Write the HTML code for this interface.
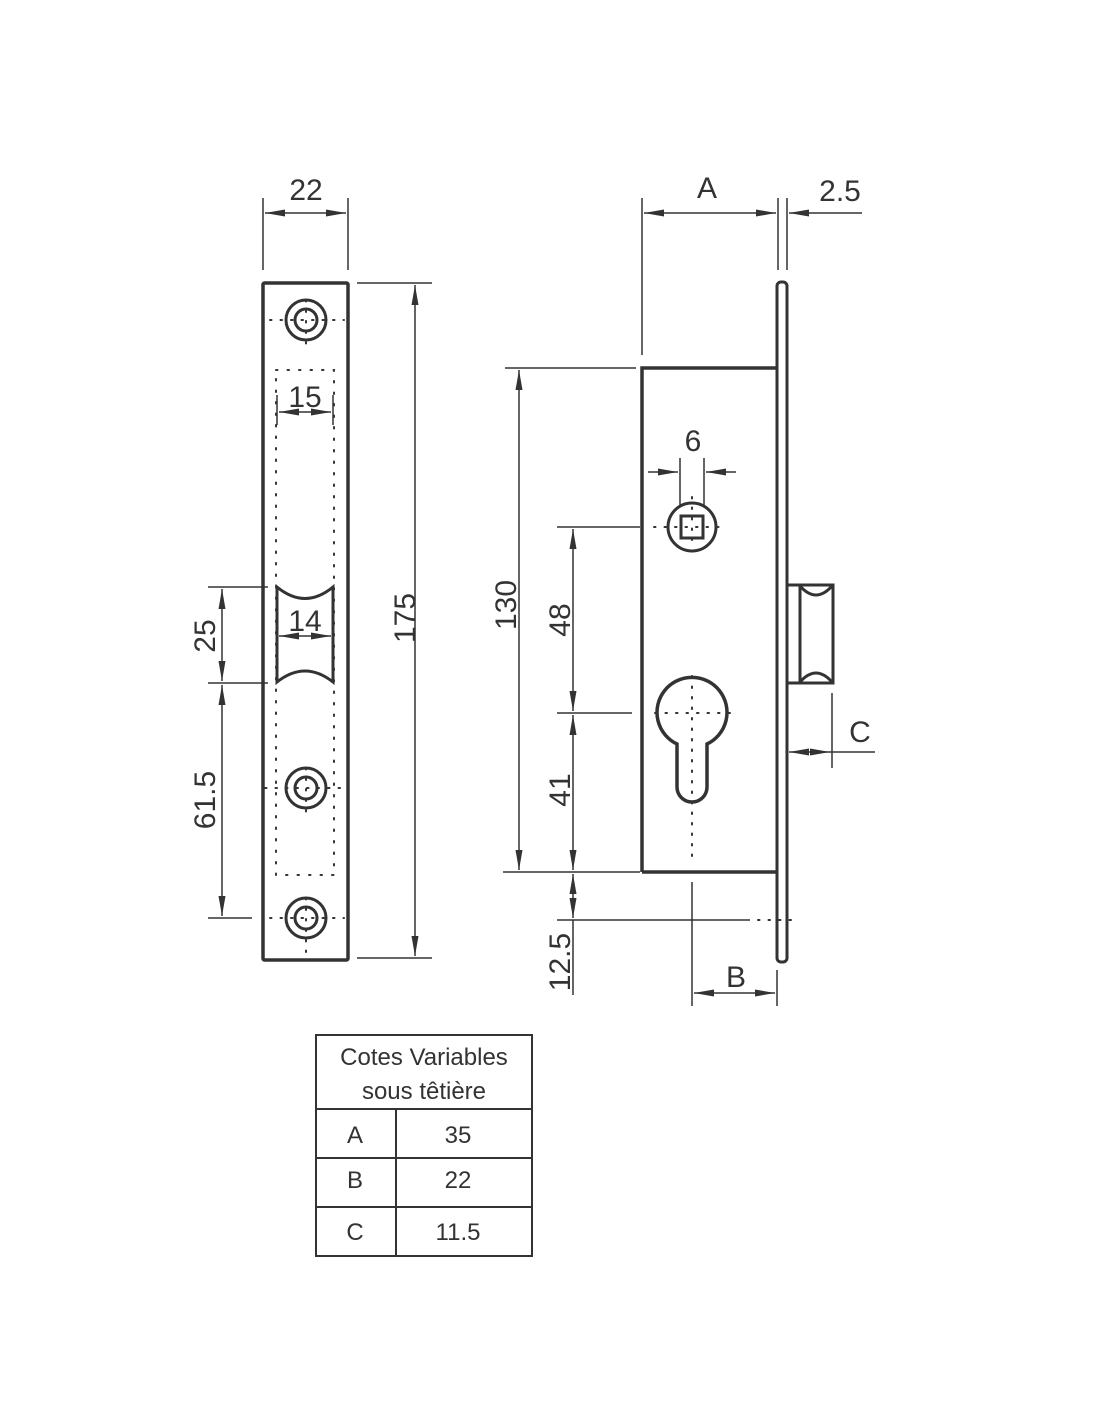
<!DOCTYPE html>
<html><head><meta charset="utf-8"><style>
html,body{margin:0;padding:0;background:#fff;}
svg{display:block;}
text{font-family:"Liberation Sans",sans-serif;fill:#333;}
</style></head><body>
<svg width="1100" height="1422" viewBox="0 0 1100 1422" xmlns="http://www.w3.org/2000/svg">
<defs>
<marker id="a" viewBox="0 0 20 8" refX="20" refY="4" markerWidth="20" markerHeight="8" markerUnits="userSpaceOnUse" orient="auto-start-reverse">
<path d="M0,0.5 L20,4 L0,7.5 Z" fill="#333"/>
</marker>
</defs>
<g stroke="#333" fill="none">
<rect x="263" y="283" width="85" height="677" stroke-width="3.5" rx="1.5"/>
<g stroke-width="1.5">
<line x1="263" y1="198" x2="263" y2="270"/>
<line x1="348" y1="198" x2="348" y2="270"/>
<line x1="265" y1="213" x2="346" y2="213" marker-start="url(#a)" marker-end="url(#a)"/>
<line x1="357" y1="283" x2="432" y2="283"/>
<line x1="357" y1="958" x2="432" y2="958"/>
<line x1="415" y1="285" x2="415" y2="956" marker-start="url(#a)" marker-end="url(#a)"/>
<line x1="208" y1="587" x2="268" y2="587"/>
<line x1="208" y1="683" x2="268" y2="683"/>
<line x1="208" y1="918" x2="252" y2="918"/>
<line x1="222" y1="589" x2="222" y2="681" marker-start="url(#a)" marker-end="url(#a)"/>
<line x1="222" y1="685" x2="222" y2="916" marker-start="url(#a)" marker-end="url(#a)"/>
<line x1="279" y1="412" x2="331" y2="412" marker-start="url(#a)" marker-end="url(#a)"/>
<line x1="277" y1="395" x2="277" y2="425"/>
<line x1="333" y1="395" x2="333" y2="425"/>
<line x1="279" y1="636" x2="331" y2="636" marker-start="url(#a)" marker-end="url(#a)"/>
</g>
<rect x="276" y="370" width="58" height="505" stroke-width="2" stroke-dasharray="1.5 10" stroke-linecap="round"/>
<path d="M277,587 Q305,610 333,587 L333,682 Q305,660 277,682 Z" stroke-width="3"/>
<g stroke-width="3">
<circle cx="306" cy="320" r="20"/><circle cx="306" cy="320" r="11"/>
<circle cx="306" cy="788" r="20"/><circle cx="306" cy="788" r="11"/>
<circle cx="306" cy="918" r="20"/><circle cx="306" cy="918" r="11"/>
</g>
<g stroke-width="2" stroke-dasharray="1.5 9" stroke-linecap="round">
<line x1="270" y1="320" x2="344" y2="320"/><line x1="306" y1="300" x2="306" y2="352"/>
<line x1="265" y1="788" x2="344" y2="788"/><line x1="306" y1="768" x2="306" y2="820"/>
<line x1="270" y1="918" x2="344" y2="918"/><line x1="306" y1="898" x2="306" y2="955"/>
</g>

<rect x="777" y="282" width="10" height="680" rx="4" stroke-width="3"/>
<path d="M642,872 L642,368 L777,368 M642,872 L777,872" stroke-width="3.5"/>
<rect x="787" y="585" width="46" height="98" stroke-width="3"/>
<line x1="800" y1="585" x2="800" y2="683" stroke-width="3"/>
<path d="M800,586 Q816,604 832,586 M800,682 Q816,664 832,682" stroke-width="3"/>
<circle cx="692" cy="527" r="24" stroke-width="3"/>
<rect x="681" y="516" width="22" height="22" stroke-width="3"/>
<path d="M677,744 A35,35 0 1 1 707,744 L707,787 A15,15 0 0 1 677,787 Z" stroke-width="3.5"/>
<g stroke-width="2" stroke-dasharray="1.5 9" stroke-linecap="round">
<line x1="654" y1="527" x2="720" y2="527"/><line x1="692" y1="497" x2="692" y2="540"/>
<line x1="655" y1="713" x2="730" y2="713"/><line x1="692" y1="676" x2="692" y2="860"/>
<line x1="758" y1="920" x2="800" y2="920"/>
</g>
<g stroke-width="1.5">
<line x1="642" y1="198" x2="642" y2="355"/>
<line x1="778" y1="198" x2="778" y2="270"/>
<line x1="787" y1="198" x2="787" y2="270"/>
<line x1="644" y1="213" x2="776" y2="213" marker-start="url(#a)" marker-end="url(#a)"/>
<line x1="862" y1="213" x2="789" y2="213" marker-end="url(#a)"/>
<line x1="505" y1="368" x2="636" y2="368"/>
<line x1="503" y1="872" x2="640" y2="872"/>
<line x1="519" y1="370" x2="519" y2="870" marker-start="url(#a)" marker-end="url(#a)"/>
<line x1="557" y1="527" x2="640" y2="527"/>
<line x1="557" y1="713" x2="632" y2="713"/>
<line x1="573" y1="529" x2="573" y2="711" marker-start="url(#a)" marker-end="url(#a)"/>
<line x1="573" y1="715" x2="573" y2="870" marker-start="url(#a)" marker-end="url(#a)"/>
<line x1="573" y1="874" x2="573" y2="918" marker-start="url(#a)" marker-end="url(#a)"/>
<line x1="573" y1="920" x2="573" y2="995"/>
<line x1="557" y1="920" x2="750" y2="920"/>
<line x1="680" y1="458" x2="680" y2="505"/>
<line x1="704" y1="458" x2="704" y2="505"/>
<line x1="648" y1="472" x2="678" y2="472" marker-end="url(#a)"/>
<line x1="736" y1="472" x2="706" y2="472" marker-end="url(#a)"/>
<line x1="692" y1="882" x2="692" y2="1006"/>
<line x1="777" y1="970" x2="777" y2="1006"/>
<line x1="694" y1="993" x2="775" y2="993" marker-start="url(#a)" marker-end="url(#a)"/>
<line x1="832" y1="693" x2="832" y2="768"/>
<line x1="789" y1="752" x2="830" y2="752" marker-start="url(#a)" marker-end="url(#a)"/>
<line x1="830" y1="752" x2="875" y2="752"/>
</g>

<g stroke-width="2">
<rect x="316" y="1035" width="216" height="221"/>
<line x1="316" y1="1109" x2="532" y2="1109"/>
<line x1="316" y1="1158" x2="532" y2="1158"/>
<line x1="316" y1="1207" x2="532" y2="1207"/>
<line x1="396" y1="1109" x2="396" y2="1256"/>
</g>
</g>

<g font-size="30" text-anchor="middle">
<text x="306" y="200">22</text>
<text x="305" y="407">15</text>
<text x="305" y="631">14</text>
<text x="707" y="198">A</text>
<text x="840" y="201">2.5</text>
<text x="693" y="451">6</text>
<text x="860" y="742">C</text>
<text x="736" y="987">B</text>
<text transform="translate(415,618) rotate(-90)">175</text>
<text transform="translate(215,636) rotate(-90)">25</text>
<text transform="translate(215,800) rotate(-90)">61.5</text>
<text transform="translate(516,605) rotate(-90)">130</text>
<text transform="translate(570,620) rotate(-90)">48</text>
<text transform="translate(570,790) rotate(-90)">41</text>
<text transform="translate(570,962) rotate(-90)">12.5</text>
</g>
<g font-size="24" text-anchor="middle">
<text x="424" y="1065">Cotes Variables</text>
<text x="424" y="1099">sous têtière</text>
<text x="355" y="1143">A</text><text x="458" y="1143">35</text>
<text x="355" y="1188">B</text><text x="458" y="1188">22</text>
<text x="355" y="1240">C</text><text x="458" y="1240">11.5</text>
</g>
</svg>
</body></html>
